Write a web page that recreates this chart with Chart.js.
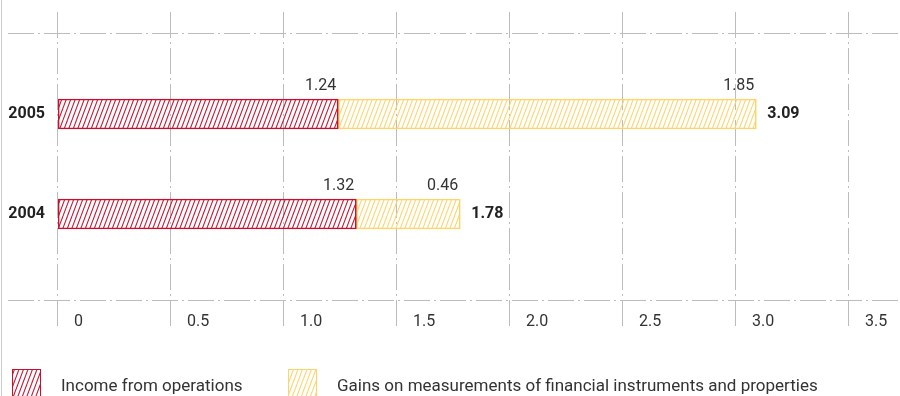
<!DOCTYPE html>
<html>
<head>
<meta charset="utf-8">
<script src="https://cdn.jsdelivr.net/npm/chart.js@4"></script>
<style>
  html, body { margin: 0; padding: 0; background: #fff; }
  #wrap { width: 900px; height: 396px; }
</style>
</head>
<body>
<div id="wrap"><canvas id="incomeChart" width="900" height="396"></canvas></div>
<script>
const years = ['2005', '2004'];
const incomeFromOperations = [1.24, 1.32];
const gainsOnMeasurements = [1.85, 0.46];
const totals = [3.09, 1.78];
const xTicks = [0, 0.5, 1.0, 1.5, 2.0, 2.5, 3.0, 3.5];
const xTickLabels = ['0', '0.5', '1.0', '1.5', '2.0', '2.5', '3.0', '3.5'];

const RED = '#c8102e';
const YELLOW = '#fdd46a';
const GRID = '#bcbcbc';
const FONT = 'Roboto, "Noto Sans", sans-serif';

// diagonal hatch tile, two stripes per 9px
function hatch(color) {
    const c = document.createElement('canvas');
    c.width = 9;
    c.height = 24;
    const g = c.getContext('2d');
    g.strokeStyle = color;
    g.lineWidth = 1.1;
    for (let k = -2; k <= 2; k++) {
        const x0 = k * 4.5;
        g.beginPath();
        g.moveTo(x0, 24);
        g.lineTo(x0 + 9, 0);
        g.stroke();
    }
    return g.createPattern(c, 'repeat');
}

const ctx = document.getElementById('incomeChart').getContext('2d');
const redHatch = hatch(RED);
const yellowHatch = hatch(YELLOW);

const decorations = {
    id: 'decorations',
    beforeDatasetsDraw(chart) {
        const c = chart.ctx;
        const xs = chart.scales.x;
        const area = chart.chartArea;
        c.save();
        // left border
        c.strokeStyle = '#cccccc';
        c.lineWidth = 1;
        c.beginPath();
        c.moveTo(1.5, 0);
        c.lineTo(1.5, chart.height);
        c.stroke();

        c.strokeStyle = GRID;
        c.setLineDash([26, 4, 2, 4]);
        // horizontal rules above and below the bars
        [area.top - 31, area.bottom + 36].forEach(y => {
            c.beginPath();
            c.moveTo(8, y + 0.5);
            c.lineTo(chart.width, y + 0.5);
            c.stroke();
        });
        // vertical grid lines at each tick
        xTicks.forEach(v => {
            const x = Math.round(xs.getPixelForValue(v)) - 0.5;
            c.beginPath();
            c.moveTo(x, 12);
            c.lineTo(x, area.bottom + 66);
            c.stroke();
        });
        c.setLineDash([]);

        // tick labels, right of each line
        c.fillStyle = '#333';
        c.font = '16px ' + FONT;
        c.textAlign = 'left';
        c.textBaseline = 'middle';
        xTicks.forEach((v, i) => {
            c.fillText(xTickLabels[i], xs.getPixelForValue(v) + 16, area.bottom + 58);
        });
        c.restore();
    },
    afterDatasetsDraw(chart) {
        const c = chart.ctx;
        const ys = chart.scales.y;
        const xs = chart.scales.x;
        c.save();
        // year labels
        c.fillStyle = '#222';
        c.font = 'bold 16px ' + FONT;
        c.textAlign = 'right';
        c.textBaseline = 'middle';
        years.forEach((y, i) => c.fillText(y, 45, ys.getPixelForValue(i)));

        // segment values above each bar end
        c.fillStyle = '#333';
        c.font = '16px ' + FONT;
        c.textAlign = 'right';
        c.textBaseline = 'bottom';
        chart.data.datasets.forEach((ds, d) => {
            const meta = chart.getDatasetMeta(d);
            meta.data.forEach((bar, i) => {
                const top = bar.y - bar.height / 2;
                c.fillText(ds.data[i].toFixed(2), bar.x - 2, top - 5);
            });
        });

        // totals after the stack
        c.fillStyle = '#222';
        c.font = 'bold 16px ' + FONT;
        c.textAlign = 'left';
        c.textBaseline = 'middle';
        totals.forEach((t, i) => {
            c.fillText(t.toFixed(2), xs.getPixelForValue(t) + 11, ys.getPixelForValue(i));
        });

        // legend
        const items = [
            { x: 12, text: chart.data.datasets[0].label, fill: redHatch, stroke: RED },
            { x: 288, text: chart.data.datasets[1].label, fill: yellowHatch, stroke: YELLOW }
        ];
        c.font = '17px ' + FONT;
        items.forEach(it => {
            c.fillStyle = it.fill;
            c.fillRect(it.x, 369, 28, 28);
            c.strokeStyle = it.stroke;
            c.lineWidth = 1;
            c.strokeRect(it.x + 0.5, 369.5, 28, 28);
            c.fillStyle = '#333';
            c.textAlign = 'left';
            c.textBaseline = 'middle';
            c.fillText(it.text, it.x + 49, 387);
        });
        c.restore();
    }
};

const incomeChart = new Chart(ctx, {
    type: 'bar',
    data: {
        labels: years,
        datasets: [{
            label: 'Income from operations',
            data: incomeFromOperations,
            backgroundColor: redHatch,
            borderColor: RED,
            borderWidth: 1,
            borderSkipped: false,
            barThickness: 30
        }, {
            label: 'Gains on measurements of financial instruments and properties',
            data: gainsOnMeasurements,
            backgroundColor: yellowHatch,
            borderColor: YELLOW,
            borderWidth: 1,
            borderSkipped: false,
            barThickness: 30
        }]
    },
    options: {
        indexAxis: 'y',
        responsive: false,
        animation: false,
        layout: {
            padding: { left: 58, right: 51, top: 64, bottom: 132 }
        },
        plugins: {
            legend: { display: false },
            tooltip: { enabled: false }
        },
        scales: {
            x: {
                display: false,
                stacked: true,
                min: 0,
                max: 3.5
            },
            y: {
                display: false,
                stacked: true
            }
        }
    },
    plugins: [decorations]
});
</script>
</body>
</html>
